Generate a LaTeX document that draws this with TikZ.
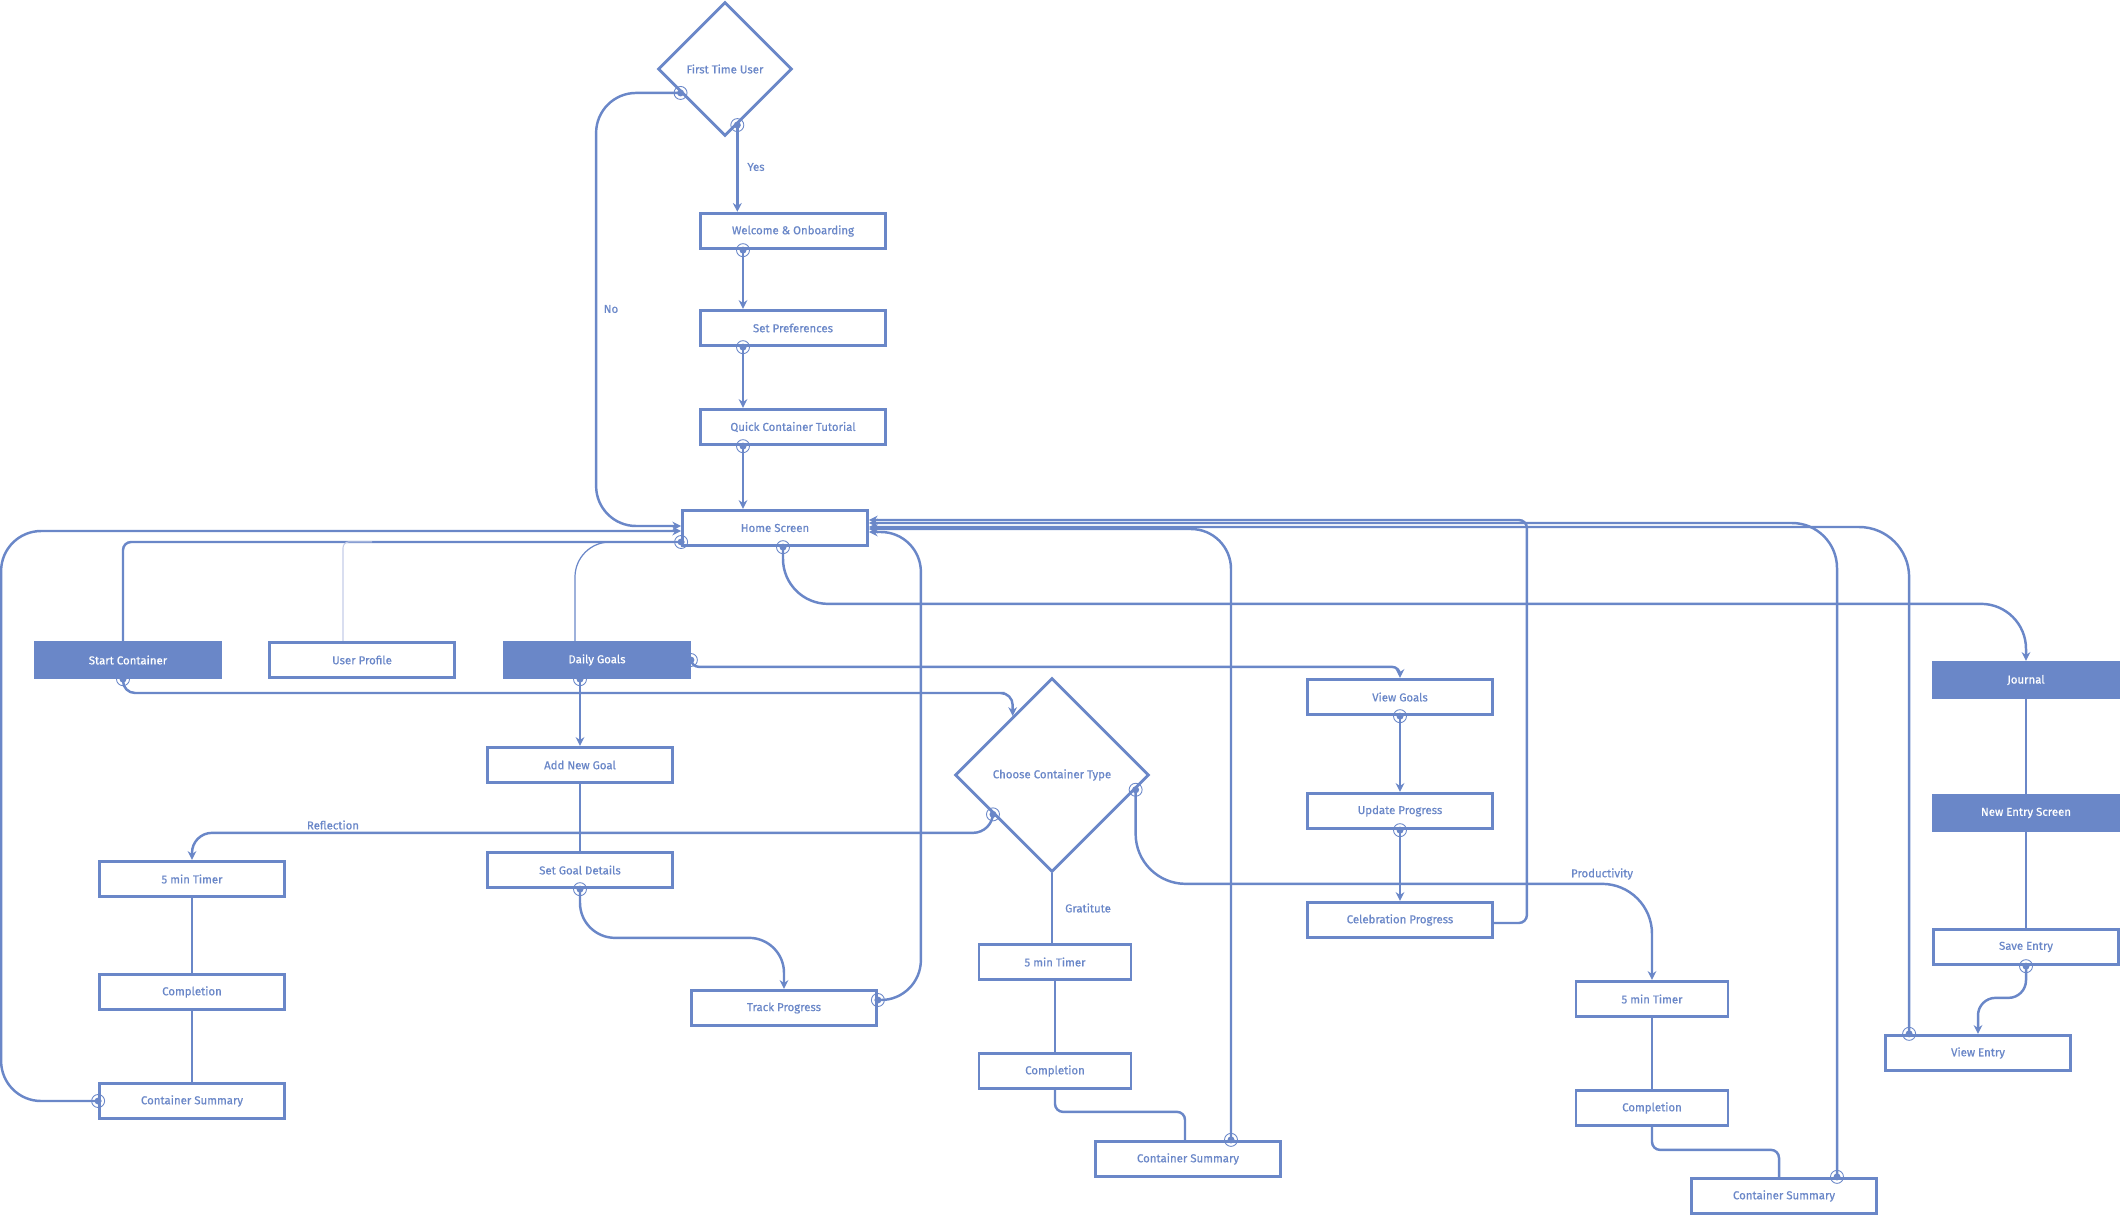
\documentclass[tikz,border=0pt]{standalone}
\usepackage{fontspec}
\setmainfont{Fira Sans}[FakeBold=0.6]
\usepackage{tikz}
\usetikzlibrary{calc,shapes.geometric,arrows.meta}

\definecolor{flowblue}{RGB}{106,135,200}
\definecolor{faintblue}{RGB}{196,205,232}

\tikzset{
  >={Stealth[length=5pt,width=5pt]},
  screen/.style={draw=flowblue, line width=1.6pt, fill=white, text=flowblue,
    minimum width=3.7cm, minimum height=0.71cm, inner sep=0pt,
    font=\fontsize{6.5}{8}\selectfont},
  shortscreen/.style={screen, minimum width=3.04cm},
  mainscreen/.style={screen, fill=flowblue, text=white},
  decision/.style={diamond, aspect=1, draw=flowblue, line width=1.6pt, fill=white,
    text=flowblue, inner sep=0pt, font=\fontsize{6.5}{8}\selectfont},
  flow/.style={draw=flowblue, line width=1.4pt},
  thinflow/.style={draw=flowblue, line width=0.7pt},
  faintflow/.style={draw=faintblue, line width=0.6pt},
  lbl/.style={text=flowblue, font=\fontsize{6.5}{8}\selectfont},
}

\newcommand{\srcmark}[1]{%
  \fill[flowblue] (#1) circle (0.07cm);
  \draw[flowblue, line width=0.5pt] (#1) circle (0.13cm);}

\begin{document}
\begin{tikzpicture}[x=0.02cm, y=-0.02cm]
\useasboundingbox (0,0) rectangle (2120,1218);

% onboarding column
\node[decision, minimum width=2.68cm, minimum height=2.68cm] (first) at (725,69) {First Time User};
\node[screen] (welcome) at (793,231) {Welcome \& Onboarding};
\node[screen] (prefs) at (793,328) {Set Preferences};
\node[screen] (tutorial) at (793,427) {Quick Container Tutorial};
\node[screen] (home) at (775,528) {Home Screen};

% second row
\node[mainscreen] (startc) at (128,660) {Start Container};
\node[screen] (profile) at (362,660) {User Profile};
\node[mainscreen] (daily) at (597,660) {Daily Goals};
\node[screen] (newgoal) at (580,765) {Add New Goal};
\node[screen] (goaldetails) at (580,870) {Set Goal Details};
\node[screen] (track) at (784,1008) {Track Progress};

% containers
\node[decision, minimum width=3.88cm, minimum height=3.88cm] (choose) at (1052,775) {Choose Container Type};
\node[screen] (refltimer) at (192,879) {5 min Timer};
\node[screen] (reflcomp) at (192,992) {Completion};
\node[screen] (reflsum) at (192,1101) {Container Summary};
\node[shortscreen] (grattimer) at (1055,962) {5 min Timer};
\node[shortscreen] (gratcomp) at (1055,1071) {Completion};
\node[screen] (gratsum) at (1188,1159) {Container Summary};
\node[shortscreen] (prodtimer) at (1652,999) {5 min Timer};
\node[shortscreen] (prodcomp) at (1652,1108) {Completion};
\node[screen] (prodsum) at (1784,1196) {Container Summary};

% goals
\node[screen] (viewgoals) at (1400,697) {View Goals};
\node[screen] (update) at (1400,811) {Update Progress};
\node[screen] (celebrate) at (1400,920) {Celebration Progress};

% journal
\node[mainscreen] (journal) at (2026,680) {Journal};
\node[mainscreen] (newentry) at (2026,813) {New Entry Screen};
\node[screen] (saveentry) at (2026,947) {Save Entry};
\node[screen] (viewentry) at (1978,1053) {View Entry};

\coordinate (noA) at ($(first.west)!0.35!(first.south)$);
\coordinate (yesA) at ($(first.south)!0.18!(first.east)$);
\coordinate (chooseIn) at ($(choose.north)!0.4!(choose.west)$);
\coordinate (chooseL) at ($(choose.west)!0.4!(choose.south)$);
\coordinate (chooseR) at ($(choose.east)!0.15!(choose.south)$);
\coordinate (homeOut) at ($(home.west)+(0,14)$);

% onboarding flow
\draw[flow,->] (yesA) -- (yesA |- welcome.north);
\draw[flow,->,rounded corners=0.8cm] (noA) -| ($(home.west)+(-85,-2)$) -- ($(home.west)+(0,-2)$);
\draw[flow,->] ($(welcome.south)+(-50,0)$) -- ($(prefs.north)+(-50,0)$);
\draw[flow,->] ($(prefs.south)+(-50,0)$) -- ($(tutorial.north)+(-50,0)$);
\draw[flow,->] ($(tutorial.south)+(-50,0)$) -- ($(home.north)+(-32,0)$);

% out of home screen
\draw[flow,rounded corners=0.16cm] (homeOut) -| ($(startc.north)+(-5,0)$);
\draw[thinflow,rounded corners=0.7cm] (homeOut) -| ($(daily.north)+(-22,0)$);
\draw[faintflow,rounded corners=0.12cm] ($(profile.north)+(-19,0)$) |- ($(profile.north)+(10,-99)$);
\draw[flow,->,rounded corners=0.9cm] ($(home.south)+(8,0)$) |- ($(journal.north)+(0,-57)$) -- (journal.north);

% start container
\draw[flow,->,rounded corners=0.24cm] ($(startc.south)+(-5,0)$) |- ($(chooseIn)+(-20,-23)$) -| (chooseIn);
\draw[flow,->,rounded corners=0.4cm] (chooseL) |- ($(refltimer.north)+(0,-27)$) -- (refltimer.north);
\draw[flow] (choose.south) -- (choose.south |- grattimer.north);
\draw[flow,->,rounded corners=1cm] (chooseR) |- ($(prodtimer.north)+(0,-96)$) -- (prodtimer.north);

\draw[flow] (refltimer) -- (reflcomp);
\draw[flow] (reflcomp) -- (reflsum);
\draw[flow,->,rounded corners=0.8cm] (reflsum.west) -| ($(home.west)+(-680,3)$) -- ($(home.west)+(0,3)$);

\draw[flow] (grattimer) -- (gratcomp);
\draw[flow,rounded corners=0.16cm] (gratcomp.south) |- ($(gratsum.north)+(-3,-28)$) -- ($(gratsum.north)+(-3,0)$);
\draw[flow,->,rounded corners=0.8cm] ($(gratsum.north)+(43,0)$) |- ($(home.east)+(0,1)$);

\draw[flow] (prodtimer) -- (prodcomp);
\draw[flow,rounded corners=0.16cm] (prodcomp.south) |- ($(prodsum.north)+(-5,-27)$) -- ($(prodsum.north)+(-5,0)$);
\draw[flow,->,rounded corners=0.9cm] ($(prodsum.north)+(53,0)$) |- ($(home.east)+(0,-5)$);

% goals
\draw[flow,->] (newgoal.north |- daily.south) -- (newgoal.north);
\draw[flow] (newgoal) -- (goaldetails);
\draw[flow,->,rounded corners=0.7cm] (goaldetails.south) |- ($(track.north)+(0,-51)$) -- (track.north);
\draw[flow,->,rounded corners=0.8cm] ($(track.east)+(0,-8)$) -| ($(home.east)+(52,4)$) -- ($(home.east)+(0,4)$);
\draw[flow,->,rounded corners=0.16cm] (daily.east) |- ($(viewgoals.north)+(0,-11)$) -- (viewgoals.north);
\draw[flow,->] (viewgoals) -- (update);
\draw[flow,->] (update) -- (celebrate);
\draw[flow,->,rounded corners=0.16cm] ($(celebrate.east)+(0,3)$) -| ($(home.east)+(658,-8)$) -- ($(home.east)+(0,-8)$);

% journal
\draw[flow] (journal) -- (newentry);
\draw[flow] (newentry) -- (saveentry);
\draw[flow,->,rounded corners=0.35cm] (saveentry.south) |- ($(viewentry.north)+(0,-36)$) -- (viewentry.north);
\draw[flow,->,rounded corners=1cm] ($(viewentry.north west)+(25,0)$) |- ($(home.east)+(0,-1)$);

% labels
\node[lbl] (yeslbl) at (756,167) {Yes};
\node[lbl] (nolbl) at (611,309) {No};
\node[lbl] (refllbl) at (333,825) {Reflection};
\node[lbl] (gratlbl) at (1088,908) {Gratitute};
\node[lbl] (prodlbl) at (1602,874) {Productivity};

% source marks
\srcmark{noA} \srcmark{yesA}
\srcmark{$(welcome.south)+(-50,0)$} \srcmark{$(prefs.south)+(-50,0)$}
\srcmark{$(tutorial.south)+(-50,0)$}
\srcmark{homeOut} \srcmark{$(home.south)+(8,0)$}
\srcmark{$(startc.south)+(-5,0)$} \srcmark{daily.east}
\srcmark{newgoal.north |- daily.south} \srcmark{goaldetails.south}
\srcmark{$(track.east)+(0,-8)$} \srcmark{chooseL} \srcmark{chooseR}
\srcmark{reflsum.west} \srcmark{$(gratsum.north)+(43,0)$}
\srcmark{$(prodsum.north)+(53,0)$} \srcmark{viewgoals.south}
\srcmark{update.south} \srcmark{saveentry.south}
\srcmark{$(viewentry.north west)+(25,0)$}

\end{tikzpicture}
\end{document}
